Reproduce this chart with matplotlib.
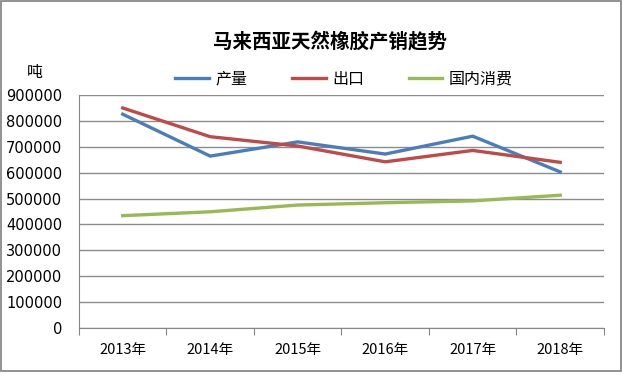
import matplotlib

matplotlib.use("Agg")
import matplotlib.pyplot as plt
import numpy as np

plt.rcParams["font.family"] = ["Noto Sans CJK SC", "DejaVu Sans"]

years = ["2013年", "2014年", "2015年", "2016年", "2017年", "2018年"]
production = [826000, 664000, 719000, 672000, 741000, 603000]
export = [850000, 739000, 703000, 642000, 686000, 640000]
domestic = [434000, 449000, 475000, 484000, 491000, 513000]

fig = plt.figure(figsize=(6.22, 3.75), dpi=100)
ax = fig.add_axes([0.127, 0.1253, 0.844, 0.6213])

x = np.arange(len(years))
ax.plot(x, production, color="#4A7EBB", lw=2.4, label="产量")
ax.plot(x, export, color="#BE4B48", lw=2.4, label="出口")
ax.plot(x, domestic, color="#98B954", lw=2.4, label="国内消费")

ax.set_xlim(-0.5, len(years) - 0.5)
ax.set_ylim(0, 900000)
ax.set_yticks(np.arange(0, 900001, 100000))
ax.set_yticklabels([f"{v:d}" for v in range(0, 900001, 100000)],
                   family="DejaVu Sans", fontsize=10.5)
ax.tick_params(axis="y", length=0, pad=12)

ax.set_xticks(np.arange(-0.5, len(years), 1.0))
ax.set_xticklabels([])
ax.tick_params(axis="x", which="major", length=5, color="#868686", direction="out")
ax.set_xticks(x, minor=True)
ax.set_xticklabels(years, minor=True, fontsize=10.5)
ax.tick_params(axis="x", which="minor", length=0, pad=11)

ax.grid(axis="y", color="#8C8C8C", lw=1)
ax.set_axisbelow(True)
for s in ["top", "right"]:
    ax.spines[s].set_visible(False)
for s in ["left", "bottom"]:
    ax.spines[s].set_color("#868686")

fig.text(0.53, 0.888, "马来西亚天然橡胶产销趋势", ha="center", va="center",
         fontsize=14, fontweight="bold")
fig.text(0.043, 0.808, "吨", ha="left", va="center", fontsize=11.5)

ax.legend(loc="lower center", bbox_to_anchor=(0.505, 0.99), ncol=3, frameon=False,
          fontsize=11.5, handlelength=2.1, columnspacing=2.8, handletextpad=0.4,
          borderaxespad=0.2)

fig.add_artist(plt.Rectangle((0.002, 0.012), 0.996, 0.986, transform=fig.transFigure,
                             fill=False, edgecolor="#7F7F7F", lw=1.2))

fig.savefig("out.png", dpi=100)
